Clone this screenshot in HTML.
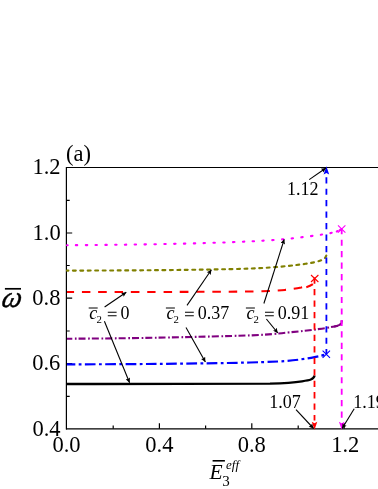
<!DOCTYPE html>
<html>
<head>
<meta charset="utf-8">
<title>Chart</title>
<style>
  html, body { margin: 0; padding: 0; background: #ffffff; }
  body { width: 378px; height: 489px; overflow: hidden; }
  svg { display: block; will-change: transform; }
  text { font-family: "Liberation Serif", serif; fill: #000; }
  .tick { font-size: 22.5px; }
  .ann { font-size: 18px; }
  .it { font-style: italic; }
</style>
</head>
<body>
<svg width="378" height="489" viewBox="0 0 378 489">
  <defs>
    <marker id="ah" viewBox="0 0 10 10" refX="10" refY="5" markerWidth="9" markerHeight="4.7" orient="auto" markerUnits="userSpaceOnUse">
      <path d="M0,0 L10,5 L0,10 L1.5,5 Z" fill="#000"/>
    </marker>
  </defs>
  <rect x="0" y="0" width="378" height="489" fill="#ffffff"/>

  <!-- axes -->
  <g fill="none" stroke="#000" stroke-width="1.2">
    <path d="M66.4,166.9 L66.4,429.4"/>
    <path d="M66,167.5 L378,167.5"/>
    <path d="M66,428.8 L378,428.8"/>
    <!-- y major ticks -->
    <path d="M66.5,233 h5.7 M66.5,298.2 h5.7 M66.5,363.5 h5.7"/>
    <!-- y minor ticks -->
    <path d="M66.5,200.3 h3.2 M66.5,265.5 h3.2 M66.5,331 h3.2 M66.5,396.3 h3.2"/>
    <!-- x major ticks -->
    <path d="M159.4,428.8 v-5.5 M251.8,428.8 v-5.5 M344.2,428.8 v-5.5"/>
    <!-- x minor ticks -->
    <path d="M113.2,428.8 v-3.2 M205.6,428.8 v-3.2 M298.2,428.8 v-3.2"/>
  </g>

  <!-- curves -->
  <g fill="none" stroke-linecap="butt" stroke-linejoin="round">
    <!-- magenta dotted -->
    <path d="M67,245.2 C120,245 200,243.8 250,241.4 C270,240.4 285,239.3 292,238.4 C300,237.5 305,236.9 311,236.1 C320,234.9 325,234.1 330,233.2 C334,232.4 338,231.2 341.4,229.3" stroke="#ff00ff" stroke-width="2.1" stroke-linecap="round" stroke-dasharray="1.4 8.4" stroke-dashoffset="0.7"/>
    <path d="M336.8,231.5 L337.9,231" stroke="#ff00ff" stroke-width="2.1" stroke-linecap="round"/>
    <!-- olive short dash -->
    <path d="M67,270.6 C130,270.5 200,270.1 250,268.6 C265,268 278,267 288.4,265.9 C295,265.2 300,264.6 305.6,263.8 C310,263.1 313,262.6 316,261.9 C319,261.2 321,260.5 322.8,259.5 C324.5,258.6 325.8,257.3 326.3,255.5" stroke="#808000" stroke-width="2.15" stroke-linecap="round" stroke-dasharray="2.9 4.55" stroke-dashoffset="1.45"/>
    <!-- red dashed -->
    <path d="M67,292 C150,292 225,291.9 255,291.4 C270,291.1 280,290.5 285,289.9 C288,289.6 291,289.2 293.3,288.9 C296,288.5 299,287.9 301.3,287.4 C302,287.2 302.5,287.1 303,287" stroke="#ff0000" stroke-width="2.05" stroke-dasharray="8.5 7.81" stroke-dashoffset="1.51"/>
    <path d="M306.3,287.2 C308.5,286.6 311,285.6 312.9,284.2" stroke="#ff0000" stroke-width="2.05"/>
    <!-- purple dash-dot -->
    <path d="M67,338.7 C130,338.5 200,337 250,335.4 C268,334.7 280,333.5 287.6,332.5 C298,331.6 307,330.6 314.5,329.6 C319,329 323,328.5 326.3,327.9 C331,327.1 335,326.4 338,325.6 C339.5,325.2 340.8,324.6 341.3,323.5 C341.6,322.6 341.7,321.5 341.7,320.5" stroke="#800080" stroke-width="2.1" stroke-dasharray="7 2.6 1.7 2" stroke-dashoffset="1.6"/>
    <path d="M334,326.6 C336,326.2 337.5,325.8 338.5,325.4 C340,324.9 341,324.3 341.4,323.2 C341.6,322.4 341.7,321.4 341.7,320.4" stroke="#800080" stroke-width="2"/>
    <!-- blue dash-dot -->
    <path d="M67,364.3 C130,364.3 200,363.7 250,362.5 C268,362 278,361.6 285,361.1 C297,360.1 307,358.6 314.5,357.1 C320,356 324,355.1 326.3,354.2" stroke="#0000ff" stroke-width="2.2" stroke-dasharray="10.65 3.4 2.8 3.4" stroke-dashoffset="2.2"/>
    <!-- black solid -->
    <path d="M67,384 C150,384 240,384.1 270,383.6 C285,383.2 295,382.4 302,381.3 C306,380.7 309,380.2 310.8,379.5 C312.6,378.8 314.2,377.6 314.6,375.6" stroke="#000000" stroke-width="2.3"/>
  </g>

  <!-- vertical dashed lines -->
  <g fill="none" stroke-width="1.8">
    <path d="M314.5,277.5 L314.5,420.6" stroke="#ff0000" stroke-dasharray="6.3 5.16"/>
    <path d="M326.4,177.2 L326.4,354.2" stroke="#0000ff" stroke-dasharray="6.2 5.26"/>
    <path d="M341.7,228.2 L341.7,420.6" stroke="#ff00ff" stroke-dasharray="6.1 5.36"/>
  </g>
  <!-- coloured arrowheads -->
  <path d="M314.5,429.8 L311.7,421.7 L314.5,423.3 L317.3,421.7 Z" fill="#ff0000"/>
  <path d="M341.7,429.8 L338.9,421.7 L341.7,423.3 L344.5,421.7 Z" fill="#ff00ff"/>
  <path d="M326.4,166.2 L323.6,174.6 L326.4,173 L329.2,174.6 Z" fill="#0000ff"/>

  <!-- markers -->
  <g fill="none" stroke-width="1.1">
    <path d="M311,275 L318.4,282 M318.4,275 L311,282" stroke="#ff0000"/>
    <path d="M338,225.4 L345.4,232.6 M345.4,225.4 L338,232.6" stroke="#ff00ff"/>
    <path d="M322.6,350.6 L330,357.8 M330,350.6 L322.6,357.8" stroke="#0000ff"/>
  </g>

  <!-- annotation arrows -->
  <g fill="none" stroke="#000" stroke-width="1.1">
    <path d="M104.6,307 L126.3,292.2" marker-end="url(#ah)"/>
    <path d="M104.4,321.3 L129.6,382.7" marker-end="url(#ah)"/>
    <path d="M187,305.4 L211.4,269.7" marker-end="url(#ah)"/>
    <path d="M186,327.6 L205.4,362" marker-end="url(#ah)"/>
    <path d="M263.9,303.5 L284.2,239.3" marker-end="url(#ah)"/>
    <path d="M266.4,319 L277.8,333" marker-end="url(#ah)"/>
    <path d="M309.2,179.6 L326,168" marker-end="url(#ah)"/>
    <path d="M296,409.7 L313.6,428.5" marker-end="url(#ah)"/>
    <path d="M354.2,408.7 L342.1,428.5" marker-end="url(#ah)"/>
  </g>

  <!-- y tick labels -->
  <g class="tick" text-anchor="end">
    <text x="60.6" y="174.2">1.2</text>
    <text x="60.7" y="239.6">1.0</text>
    <text x="60.4" y="305.3">0.8</text>
    <text x="60.3" y="370.1">0.6</text>
    <text x="60.6" y="435.6">0.4</text>
  </g>
  <!-- x tick labels -->
  <g class="tick" text-anchor="middle">
    <text x="66.5" y="452.3">0.0</text>
    <text x="159.4" y="452.3">0.4</text>
    <text x="251.8" y="452.3">0.8</text>
    <text x="345.3" y="452.3">1.2</text>
  </g>

  <!-- panel label -->
  <text x="66" y="161.3" font-size="22.5">(a)</text>

  <!-- y axis label -->
  <text transform="translate(0.6,306.6) skewX(-13) scale(1.04,1.1)" x="0" y="0" font-size="27" class="it" stroke="#000" stroke-width="0.4">ω</text>
  <path d="M4.9,288.8 L21,288.8" stroke="#000" stroke-width="1.7" fill="none"/>

  <!-- x axis label -->
  <text x="209.5" y="479.4" font-size="21.5" class="it">E</text>
  <path d="M212.6,460.8 L224.9,460.8" stroke="#000" stroke-width="1.6" fill="none"/>
  <text x="222.3" y="485.7" font-size="15">3</text>
  <text x="226" y="469.3" font-size="13" class="it">eff</text>

  <!-- curve labels -->
  <g class="ann">
    <text x="89.2" y="319.4" class="it">c</text>
    <path d="M88.7,308 h9" stroke="#000" stroke-width="1" fill="none"/>
    <text x="96.4" y="323.1" font-size="10.8">2</text>
    <path d="M107.8,312.2 h8.8 M107.8,315.7 h8.8" stroke="#000" stroke-width="1.05" fill="none"/>
    <text x="120.6" y="319.4">0</text>
    <text x="166.4" y="319.4" class="it">c</text>
    <path d="M165.9,308 h9" stroke="#000" stroke-width="1" fill="none"/>
    <text x="173.6" y="323.1" font-size="10.8">2</text>
    <path d="M185.0,312.2 h8.8 M185.0,315.7 h8.8" stroke="#000" stroke-width="1.05" fill="none"/>
    <text x="197.7" y="319.4">0.37</text>
    <text x="246.4" y="319.4" class="it">c</text>
    <path d="M245.9,308 h9" stroke="#000" stroke-width="1" fill="none"/>
    <text x="253.6" y="323.1" font-size="10.8">2</text>
    <path d="M265.0,312.2 h8.8 M265.0,315.7 h8.8" stroke="#000" stroke-width="1.05" fill="none"/>
    <text x="277.7" y="319.4">0.91</text>

    <text x="287.1" y="194.6">1.12</text>
    <text x="269.3" y="407.6">1.07</text>
    <text x="353.2" y="407.6">1.19</text>
  </g>
</svg>
</body>
</html>
